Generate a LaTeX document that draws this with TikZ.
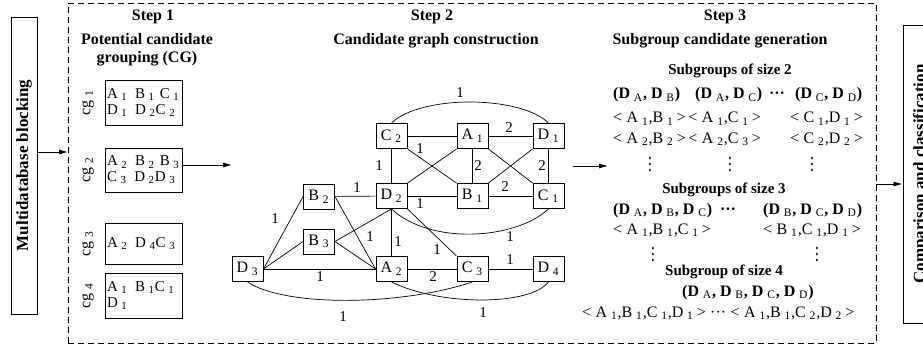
\documentclass[tikz,border=0pt]{standalone}
\usepackage{fontspec}
\setmainfont{Liberation Serif}
\usepackage{graphicx}
\usetikzlibrary{arrows.meta}

% lowered, smaller index set after a symbol
\newcommand\lo[1]{\kern0.24em\raisebox{-0.35ex}{\scalebox{0.72}{\mdseries #1}}\kern0.05em\relax}
% angle-bracketed tuple of records
\newcommand\tu[1]{<\hspace{4.5pt}#1\hspace{3pt}>}
% tall vertical ellipsis
\newcommand\vd{\scalebox{1}[1.45]{$\vdots$}}
\newcommand\fs[1]{\fontsize{#1}{#1}\selectfont}

\tikzset{
  box/.style={draw, line width=0.9pt, inner sep=0pt},
  gnode/.style={box, minimum width=31pt, minimum height=25pt, font=\fs{16}},
  cgbox/.style={box, minimum width=77pt, text width=73pt, inner xsep=2pt,
    align=left, font=\fontsize{15}{15.5}\selectfont},
  cglabel/.style={rotate=90, inner sep=0pt, font=\fs{16}},
  conn/.style={line width=0.7pt},
  lbl/.style={font=\fs{15}, inner sep=0pt},
  arr/.style={line width=0.8pt, -{Latex[length=9pt,width=5pt]}},
  head/.style={font=\bfseries\fontsize{16}{18}\selectfont, inner sep=0pt,
    anchor=base, align=center},
  subhead/.style={font=\bfseries\fs{15}, inner sep=0pt, anchor=base},
  txt/.style={font=\fs{16}, inner sep=0pt, anchor=base west},
  btxt/.style={font=\bfseries\fs{16}, inner sep=0pt, anchor=base west},
  sidebox/.style={box, rotate=90, font=\bfseries\fs{17}},
}

\begin{document}
\begin{tikzpicture}[x=1pt, y=-1pt]
\useasboundingbox (0,0) rectangle (923,350);
\clip (0,0) rectangle (923,350);

% outer stages
\node[sidebox, minimum width=297pt, minimum height=26pt] (mdb) at (24,165.5) {Multidatabase blocking};
\node[sidebox, minimum width=298pt, minimum height=36pt] (cmp) at (921,174) {Comparison and classification};
\node[draw, line width=0.8pt, dash pattern=on 6pt off 4pt, inner sep=0pt,
      minimum width=808pt, minimum height=340pt] (frame) at (472,173) {};
\coordinate (inL) at (68,152);
\coordinate (outR) at (876,184);
\draw[arr] (mdb.south |- inL) -- (inL);
\draw[arr] (outR) -- (outR -| cmp.north);

% step titles
\node[head] (s1) at (153,21) {Step 1};
\node[head] (t1) at (147,63) {Potential candidate\\grouping (CG)};
\node[head] (s2) at (432,21) {Step 2};
\node[head] (t2) at (436,45) {Candidate graph construction};
\node[head] (s3) at (725,21) {Step 3};
\node[head] (t3) at (720,45) {Subgroup candidate generation};

% step 1: candidate groups
\node[cgbox, minimum height=45pt] (cg1) at (143.5,102.5) {A\lo1 \,B\lo1 C\lo1\\D\lo1 \,D\lo2C\lo2};
\node[cgbox, minimum height=44pt] (cg2) at (143.5,170) {A\lo2 \,B\lo2 B\lo3\\C\lo3 \,D\lo2D\lo3};
\node[cgbox, minimum height=41pt] (cg3) at (143.5,243.5) {A\lo2 \,D\lo4C\lo3};
\node[cgbox, minimum height=45pt] (cg4) at (143.5,295.5) {A\lo1 \,B\lo1C\lo1\\D\lo1};
\node[cglabel] (k1) at (88,102.5) {cg\lo1};
\node[cglabel] (k2) at (88,170) {cg\lo2};
\node[cglabel] (k3) at (88,243.5) {cg\lo3};
\node[cglabel] (k4) at (88,295.5) {cg\lo4};
\coordinate (g0) at (232,165);
\draw[arr] ([yshift=5pt]cg2.east) -- (g0);

% step 2: candidate graph
\node[gnode] (C2) at (391.5,136) {C\lo2};
\node[gnode] (A1) at (472.5,136) {A\lo1};
\node[gnode] (D1) at (548.5,136) {D\lo1};
\node[gnode] (D2) at (391.5,196) {D\lo2};
\node[gnode] (B1) at (472.5,196) {B\lo1};
\node[gnode] (C1) at (548.5,196) {C\lo1};
\node[gnode] (B2) at (319,196.5) {B\lo2};
\node[gnode] (B3) at (319,241.5) {B\lo3};
\node[gnode] (D3) at (247.5,269) {D\lo3};
\node[gnode] (A2) at (391.5,269) {A\lo2};
\node[gnode] (C3) at (472.5,269) {C\lo3};
\node[gnode] (D4) at (548.5,269) {D\lo4};

\draw[conn] (C2) -- (A1);
\draw[conn] (A1) -- (D1);
\draw[conn] (C2) -- (D2);
\draw[conn] (A1) -- (B1);
\draw[conn] (D1) -- (C1);
\draw[conn] (C2.south east) -- (B1.north west);
\draw[conn] (A1.south west) -- (D2.north east);
\draw[conn] (A1.south east) -- (C1.north west);
\draw[conn] (D1.south west) -- (B1.north east);
\draw[conn] (D2) -- (B1);
\draw[conn] (B1) -- (C1);
\draw[conn] (C2.north) .. controls (420,95) and (520,95) .. (D1.north);
\draw[conn] (D2.south) .. controls (430,245) and (515,240) .. (C1.south);
\draw[conn] (B2) -- (D2);
\draw[conn] (D2) -- (A2);
\draw[conn] (D2.south) -- (B3.east);
\draw[conn] (D2.south east) -- (C3.north west);
\draw[conn] (B2.east) -- (A2.west);
\draw[conn] (B3.east) -- (A2.west);
\draw[conn] (D3.east) -- (B2.west);
\draw[conn] (D3.east) -- (B3.west);
\draw[conn] (D3) -- (A2);
\draw[conn] (A2) -- (C3);
\draw[conn] (C3) -- (D4);
\draw[conn] (D3.south) .. controls (285,307) and (400,306) .. (C3.south);
\draw[conn] (A2.south) .. controls (440,306) and (530,306) .. (D4.south);

% edge weights
\node[lbl] (w1) at (460,93) {1};
\node[lbl] (w2) at (509,128) {2};
\node[lbl] (w3) at (420,149) {1};
\node[lbl] (w4) at (379,166) {1};
\node[lbl] (w5) at (478,166) {2};
\node[lbl] (w6) at (542,166) {2};
\node[lbl] (w7) at (505,187) {2};
\node[lbl] (w8) at (420,204) {1};
\node[lbl] (w9) at (510,237) {1};
\node[lbl] (w10) at (357,188) {1};
\node[lbl] (w11) at (398,242) {1};
\node[lbl] (w12) at (370,237) {1};
\node[lbl] (w13) at (275,219) {1};
\node[lbl] (w14) at (320,277) {1};
\node[lbl] (w15) at (433,277) {2};
\node[lbl] (w16) at (437,250) {1};
\node[lbl] (w17) at (510,260) {1};
\node[lbl] (w18) at (343,317) {1};
\node[lbl] (w19) at (483,313) {1};

\coordinate (g1) at (573,166);
\coordinate (g2) at (608,166);
\draw[arr] (g1) -- (g2);

% step 3: subgroup candidates
\node[subhead] (h2) at (730,75) {Subgroups of size 2};
\node[btxt] (p1) at (613,99) {(D\lo{A}, D\lo{B})};
\node[btxt] (p2) at (695,99) {(D\lo{A}, D\lo{C})};
\node[btxt, anchor=base] (p3) at (777,99) {···};
\node[btxt] (p4) at (795,99) {(D\lo{C}, D\lo{D})};
\node[txt] (q1) at (613,123) {\tu{A\lo1,B\lo1}\,\tu{A\lo1,C\lo1}};
\node[txt] (q2) at (790,123) {\tu{C\lo1,D\lo1}};
\node[txt] (q3) at (613,143) {\tu{A\lo2,B\lo2}\,\tu{A\lo2,C\lo3}};
\node[txt] (q4) at (790,143) {\tu{C\lo2,D\lo2}};
\node[lbl] (v1) at (650,160) {\vd};
\node[lbl] (v2) at (730,160) {\vd};
\node[lbl] (v3) at (812,160) {\vd};

\node[subhead] (h3) at (724,193) {Subgroups of size 3};
\node[btxt] (p5) at (613,214) {(D\lo{A}, D\lo{B}, D\lo{C})};
\node[btxt, anchor=base] (p6) at (728,214) {···};
\node[btxt] (p7) at (763,214) {(D\lo{B}, D\lo{C}, D\lo{D})};
\node[txt] (q5) at (613,234) {\tu{A\lo1,B\lo1,C\lo1}};
\node[txt] (q6) at (763,234) {\tu{B\lo1,C\lo1,D\lo1}};
\node[lbl] (v4) at (653,250) {\vd};
\node[lbl] (v5) at (817,250) {\vd};

\node[subhead] (h4) at (724,275) {Subgroup of size 4};
\node[btxt] (p8) at (682,296) {(D\lo{A}, D\lo{B}, D\lo{C}, D\lo{D})};
\node[txt] (q7) at (582,317) {\tu{A\lo1,B\lo1,C\lo1,D\lo1}\;···\;\tu{A\lo1,B\lo1,C\lo2,D\lo2}};
\end{tikzpicture}
\end{document}
